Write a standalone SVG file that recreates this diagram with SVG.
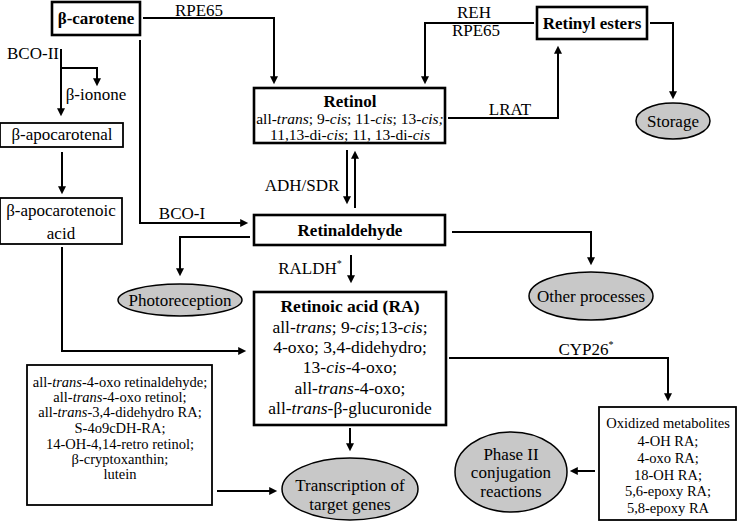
<svg xmlns="http://www.w3.org/2000/svg" width="738" height="524" viewBox="0 0 738 524">
<style>
text{font-family:'Liberation Serif','DejaVu Serif',serif;fill:#000;text-anchor:middle}
.lbl{font-size:17px}
.b{font-weight:bold;font-size:17px}
.s15{font-size:15.5px}
.s17{font-size:17.5px}
.s14{font-size:14.5px}
.thick{fill:#fff;stroke:#000;stroke-width:2.6}
.thin{fill:#fff;stroke:#000;stroke-width:1.8}
.ell{fill:#c8c8c8;stroke:#000;stroke-width:1.5}
.c{fill:none;stroke:#000;stroke-width:2;marker-end:url(#ah)}
.it{font-style:italic}
</style>
<defs>
<marker id="ah" viewBox="0 0 10 10" refX="1" refY="5" markerWidth="9" markerHeight="8" markerUnits="userSpaceOnUse" orient="auto">
<path d="M0,0 L10,5 L0,10 z" fill="#000"/>
</marker>
</defs>
<rect width="738" height="524" fill="#fff"/>

<g id="connectors">
<path class="c" d="M143 18 H274 V77"/>
<path class="c" d="M534 23 H425 V77"/>
<path class="c" d="M650 23 H673 V92"/>
<path class="c" d="M448 118 H558 V53"/>
<path class="c" d="M61 49 V109"/>
<path class="c" d="M61 68 H97 V79"/>
<path class="c" d="M140 40 V223 H241"/>
<path class="c" d="M62 152 V187"/>
<path class="c" d="M62 247 V351 H239"/>
<path class="c" d="M347 150 V197"/>
<path class="c" d="M355 208 V158"/>
<path class="c" d="M250 237 H180 V269"/>
<path class="c" d="M351 255 V276"/>
<path class="c" d="M452 232 H591 V258"/>
<path class="c" d="M350 428 V444"/>
<path class="c" d="M449 358 H668 V394"/>
<path class="c" d="M595 471 H577"/>
<path class="c" d="M217 491 H270"/>
<text class="lbl" x="199" y="16">RPE65</text>
<text class="lbl" x="474" y="18">REH</text>
<text class="lbl" x="476" y="36">RPE65</text>
<text class="lbl" x="510" y="115">LRAT</text>
<text class="lbl" x="33" y="59">BCO-II</text>
<text class="lbl" x="96" y="100">β-ionone</text>
<text class="lbl" x="182" y="219">BCO-I</text>
<text class="lbl" x="302" y="191">ADH/SDR</text>
<text class="lbl" x="310" y="274">RALDH<tspan font-size="10" dy="-7">*</tspan></text>
<text class="lbl" x="586" y="355">CYP26<tspan font-size="10" dy="-7">*</tspan></text>
</g>

<g id="carotene">
<rect class="thick" x="52" y="2" width="88" height="33"/>
<text class="b" x="96" y="24">β-carotene</text>
</g>

<g id="retinol">
<rect class="thick" x="254" y="88" width="191" height="55"/>
<text class="b" x="350" y="107">Retinol</text>
<text class="s15" x="350" y="124">all-<tspan class="it">trans</tspan>; 9-<tspan class="it">cis</tspan>; 11-<tspan class="it">cis</tspan>; 13-<tspan class="it">cis;</tspan></text>
<text class="s15" x="350" y="140">11,13-di-<tspan class="it">cis</tspan>; 11, 13-di-<tspan class="it">cis</tspan></text>
</g>

<g id="retinyl-esters">
<rect class="thick" x="537" y="7" width="110" height="32"/>
<text class="b" x="592" y="29">Retinyl esters</text>
</g>

<g id="storage">
<ellipse class="ell" cx="673" cy="121" rx="37" ry="18"/>
<text class="lbl" x="673" y="127">Storage</text>
</g>

<g id="apocarotenal">
<rect class="thin" x="0" y="123" width="123" height="24"/>
<text class="lbl" x="62" y="140">β-apocarotenal</text>
</g>

<g id="apocarotenoic-acid">
<rect class="thin" x="0" y="198" width="122" height="46"/>
<text class="lbl" x="61" y="216">β-apocarotenoic</text>
<text class="lbl" x="61" y="239">acid</text>
</g>

<g id="retinaldehyde">
<rect class="thick" x="254" y="215" width="191" height="30"/>
<text class="b" x="350" y="236">Retinaldehyde</text>
</g>

<g id="photoreception">
<ellipse class="ell" cx="180" cy="300" rx="62" ry="16"/>
<text class="lbl" x="180" y="306">Photoreception</text>
</g>

<g id="other-processes">
<ellipse class="ell" cx="591" cy="296" rx="62" ry="24"/>
<text class="lbl" x="591" y="302">Other processes</text>
</g>

<g id="retinoic-acid">
<rect class="thick" x="254" y="292" width="192" height="133"/>
<text class="s17" x="350" y="312" font-weight="bold">Retinoic acid (RA)</text>
<text class="s17" x="350" y="333">all-<tspan class="it">trans</tspan>; 9-<tspan class="it">cis</tspan>;13-<tspan class="it">cis</tspan>;</text>
<text class="s17" x="350" y="353">4-oxo; 3,4-didehydro;</text>
<text class="s17" x="350" y="373">13-<tspan class="it">cis</tspan>-4-oxo;</text>
<text class="s17" x="350" y="394">all-<tspan class="it">trans</tspan>-4-oxo;</text>
<text class="s17" x="350" y="414">all-<tspan class="it">trans</tspan>-β-glucuronide</text>
</g>

<g id="other-retinoids">
<rect class="thin" x="27" y="365" width="185" height="140"/>
<text class="s14" x="120" y="387">all-<tspan class="it">trans</tspan>-4-oxo retinaldehyde;</text>
<text class="s14" x="120" y="402">all-<tspan class="it">trans</tspan>-4-oxo retinol;</text>
<text class="s14" x="120" y="417">all-<tspan class="it">trans</tspan>-3,4-didehydro RA;</text>
<text class="s14" x="120" y="433">S-4o9cDH-RA;</text>
<text class="s14" x="120" y="449">14-OH-4,14-retro retinol;</text>
<text class="s14" x="120" y="464">β-cryptoxanthin;</text>
<text class="s14" x="120" y="479">lutein</text>
</g>

<g id="transcription">
<ellipse class="ell" cx="350" cy="489" rx="68" ry="31"/>
<text class="lbl" x="350" y="491">Transcription of</text>
<text class="lbl" x="350" y="510">target genes</text>
</g>

<g id="oxidized-metabolites">
<rect class="thin" x="599" y="407" width="137" height="113"/>
<text class="s14" x="668" y="428">Oxidized metabolites</text>
<text class="s14" x="668" y="446">4-OH RA;</text>
<text class="s14" x="668" y="463">4-oxo RA;</text>
<text class="s14" x="668" y="480">18-OH RA;</text>
<text class="s14" x="668" y="496">5,6-epoxy RA;</text>
<text class="s14" x="668" y="513">5,8-epoxy RA</text>
</g>

<g id="phase2">
<ellipse class="ell" cx="511" cy="472" rx="56" ry="40"/>
<text class="lbl" x="511" y="460">Phase II</text>
<text class="lbl" x="511" y="478">conjugation</text>
<text class="lbl" x="511" y="497">reactions</text>
</g>
</svg>
